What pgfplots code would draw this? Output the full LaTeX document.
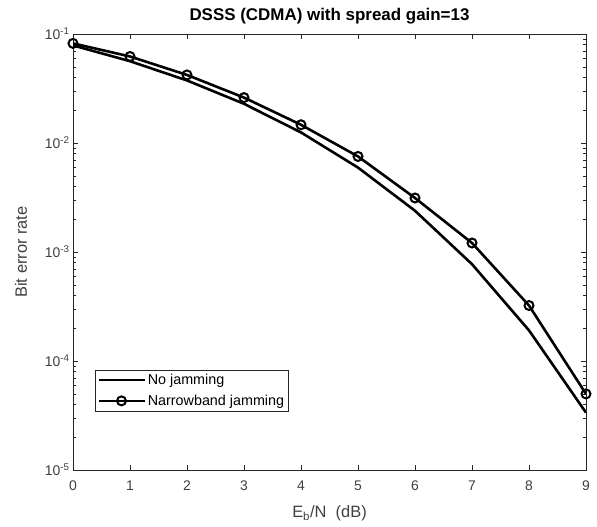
\documentclass[border=0pt]{standalone}
\usepackage{pgfplots}
\pgfplotsset{compat=1.18}
\usepackage{fontspec}
\setmainfont{Liberation Sans}
\definecolor{axgray}{gray}{0.15}
\definecolor{lblgray}{gray}{0.25}
\begin{document}
\begin{tikzpicture}
\path[use as bounding box] (-73bp,-57bp) rectangle (524bp,470bp);
\begin{axis}[
  at={(0,0)}, anchor=south west,
  scale only axis, width=513bp, height=436bp,
  ymode=log, log basis y=10,
  xmin=0, xmax=9, ymin=1e-5, ymax=1e-1,
  xtick={0,1,2,3,4,5,6,7,8,9},
  ytick={1e-5,1e-4,1e-3,1e-2,1e-1},
  minor ytick={2e-5,3e-5,4e-5,5e-5,6e-5,7e-5,8e-5,9e-5,
               2e-4,3e-4,4e-4,5e-4,6e-4,7e-4,8e-4,9e-4,
               2e-3,3e-3,4e-3,5e-3,6e-3,7e-3,8e-3,9e-3,
               2e-2,3e-2,4e-2,5e-2,6e-2,7e-2,8e-2,9e-2},
  yticklabel={10\textsuperscript{\pgfmathparse{int(round(\tick))}\pgfmathresult}},
  /pgf/number format/assume math mode=true,
  tick align=inside,
  major tick length=5bp, minor tick length=3bp,
  axis line style={axgray, line width=0.6bp},
  every tick/.style={axgray, line width=0.5bp},
  ticklabel style={font=\fontsize{14}{16}\selectfont, text=lblgray},
  xticklabel style={yshift=-7bp},
  title={\textbf{DSSS (CDMA) with spread gain=13}},
  title style={font=\fontsize{17}{20}\selectfont, text=black},
  xlabel={E\textsubscript{b}/N\ \ (dB)},
  ylabel={Bit error rate},
  label style={font=\fontsize{16.5}{19}\selectfont, text=lblgray},
  xlabel style={at={(axis description cs:0.5,-0.110)}, anchor=base},
  ylabel style={at={(axis description cs:-0.0897,0.5)}, anchor=base},
  legend style={at={(axis description cs:0.0429,0.1353)}, anchor=south west,
    draw=axgray, font=\fontsize{14.4}{17}\selectfont,
    inner xsep=2bp, inner ysep=2bp, row sep=5bp,
    nodes={inner sep=2bp}},
  legend cell align=left,
  legend image code/.code={\draw[mark repeat=2,mark phase=2,#1] plot coordinates {(0bp,0bp) (23bp,0bp) (46bp,0bp)};},
]
\addplot[black, line width=2.6bp] coordinates {
(0,0.0786) (1,0.0563) (2,0.0375) (3,0.0229) (4,0.0125)
(5,0.00595) (6,0.00239) (7,0.000773) (8,0.000191) (9,0.0000336)};
\addlegendentry{No jamming}
\addplot[black, line width=2.6bp, mark=o, mark size=4.5bp, mark options={line width=2bp}] coordinates {
(0,0.082) (1,0.0622) (2,0.0421) (3,0.0261) (4,0.0147)
(5,0.00753) (6,0.00313) (7,0.00121) (8,0.000323) (9,0.0000499)};
\addlegendentry{Narrowband jamming}
\end{axis}
\end{tikzpicture}
\end{document}
